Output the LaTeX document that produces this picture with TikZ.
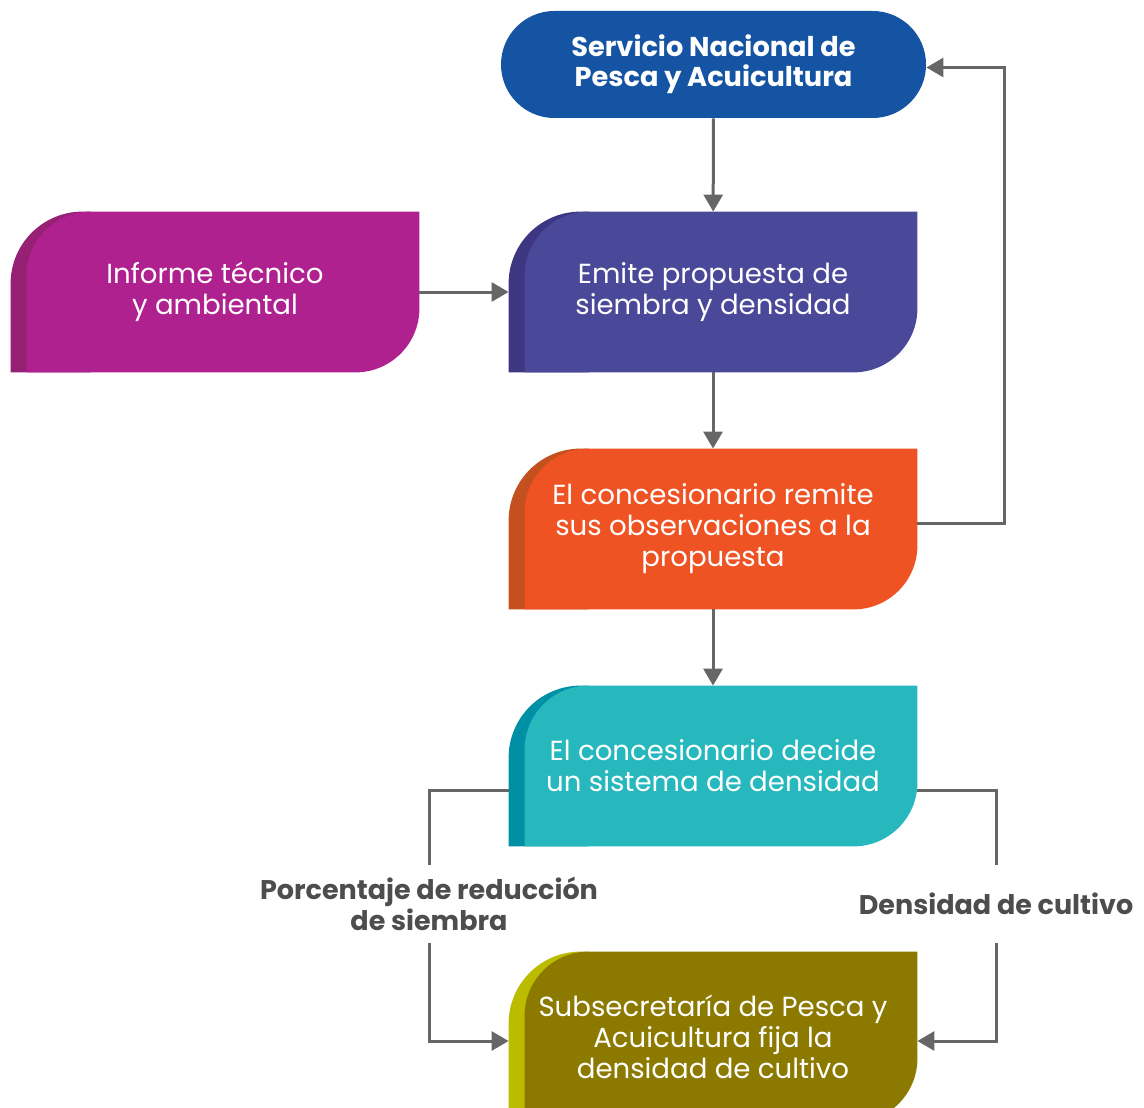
\documentclass[tikz,border=0pt]{standalone}
\usepackage{fontspec}
\setmainfont{Poppins}
\usepackage{tikz}
\usetikzlibrary{arrows.meta,positioning,backgrounds}
\definecolor{sernapesca}{HTML}{1554A2}
\definecolor{informe}{HTML}{B02190}
\definecolor{informedark}{HTML}{952074}
\definecolor{emite}{HTML}{4A4898}
\definecolor{emitedark}{HTML}{3D3680}
\definecolor{remite}{HTML}{EF5323}
\definecolor{remitedark}{HTML}{C5501F}
\definecolor{decide}{HTML}{27B8BE}
\definecolor{decidedark}{HTML}{0090A5}
\definecolor{fija}{HTML}{8C7A00}
\definecolor{fijadark}{HTML}{BBBB00}
\definecolor{linegray}{HTML}{666666}
\definecolor{labelgray}{HTML}{4D4D4D}
\tikzset{
	x=0.5pt, y=0.5pt, % one unit = one pixel
	arr/.style={draw=linegray, line width=1.5pt, -{Triangle[width=9.5pt,length=8.5pt]}},
	link/.style={draw=linegray, line width=1.5pt},
	flow/.style={minimum width=204pt, minimum height=80pt, inner sep=0pt, align=center,
		text=white, font=\fontsize{13.8}{15.5}\selectfont},
	pill/.style={flow, minimum width=212.5pt, minimum height=53.5pt, fill=sernapesca,
		rounded corners=26.7pt, font=\bfseries\fontsize{13.6}{15}\selectfont},
	lbl/.style={minimum height=38.5pt, inner sep=0pt, align=center, text=labelgray,
		font=\bfseries\fontsize{13.5}{15.5}\selectfont},
}
% box with a dark strip on the left: name, dark, light
\newcommand{\flowshape}[3]{%
	\fill[#2] (#1.south west) -- ([yshift=-36pt]#1.north west)
		arc[start angle=180, end angle=90, radius=36pt]
		-- ([xshift=40pt]#1.north west) -- ([xshift=40pt]#1.south west) -- cycle;
	\fill[#3] ([xshift=8pt]#1.south west) -- ([xshift=8pt,yshift=-32pt]#1.north west)
		arc[start angle=180, end angle=90, radius=32pt]
		-- (#1.north east) -- ([yshift=32pt]#1.south east)
		arc[start angle=0, end angle=-90, radius=32pt] -- cycle;
}

\begin{document}
\begin{tikzpicture}
	\useasboundingbox (0,0) rectangle (1144,-1107);

	\node[pill] (snp) at (713.5,-64.5) {Servicio Nacional de\\Pesca y Acuicultura};
	\node[flow] (informe) at (215,-292) {Informe técnico\\y ambiental};
	\node[flow] (emite) at (713,-292) {Emite propuesta de\\siembra y densidad};
	\node[flow] (remite) at (713,-529) {El concesionario remite\\sus observaciones a la\\propuesta};
	\node[flow] (decide) at (713,-766) {El concesionario decide\\un sistema de densidad};
	\node[flow, minimum height=85pt] (fija) at (713,-1037) {Subsecretaría de Pesca y\\Acuicultura fija la\\densidad de cultivo};

	\node[lbl] (porcentaje) at (429,-904) {Porcentaje de reducción\\de siembra};
	\node[lbl] (densidad) at (996,-904) {Densidad de cultivo};

	\begin{scope}[on background layer]
		\flowshape{informe}{informedark}{informe}
		\flowshape{emite}{emitedark}{emite}
		\flowshape{remite}{remitedark}{remite}
		\flowshape{decide}{decidedark}{decide}
		\flowshape{fija}{fijadark}{fija}
	\end{scope}

	\draw[arr] (snp) -- (emite);
	\draw[arr] (informe) -- (emite);
	\draw[arr] (emite) -- (remite);
	\draw[arr] (remite) -- (decide);
	\draw[arr] ([yshift=3pt]remite.east) -- ++(87,0) |- ([yshift=-1.5pt]snp.east);

	\draw[link] ([yshift=-12pt]decide.west) -| (porcentaje.north);
	\draw[arr] (porcentaje.south) |- ([yshift=-2pt]fija.west);
	\draw[link] ([yshift=-12pt]decide.east) -| (densidad.north);
	\draw[arr] (densidad.south) |- ([yshift=-2pt]fija.east);
\end{tikzpicture}
\end{document}
